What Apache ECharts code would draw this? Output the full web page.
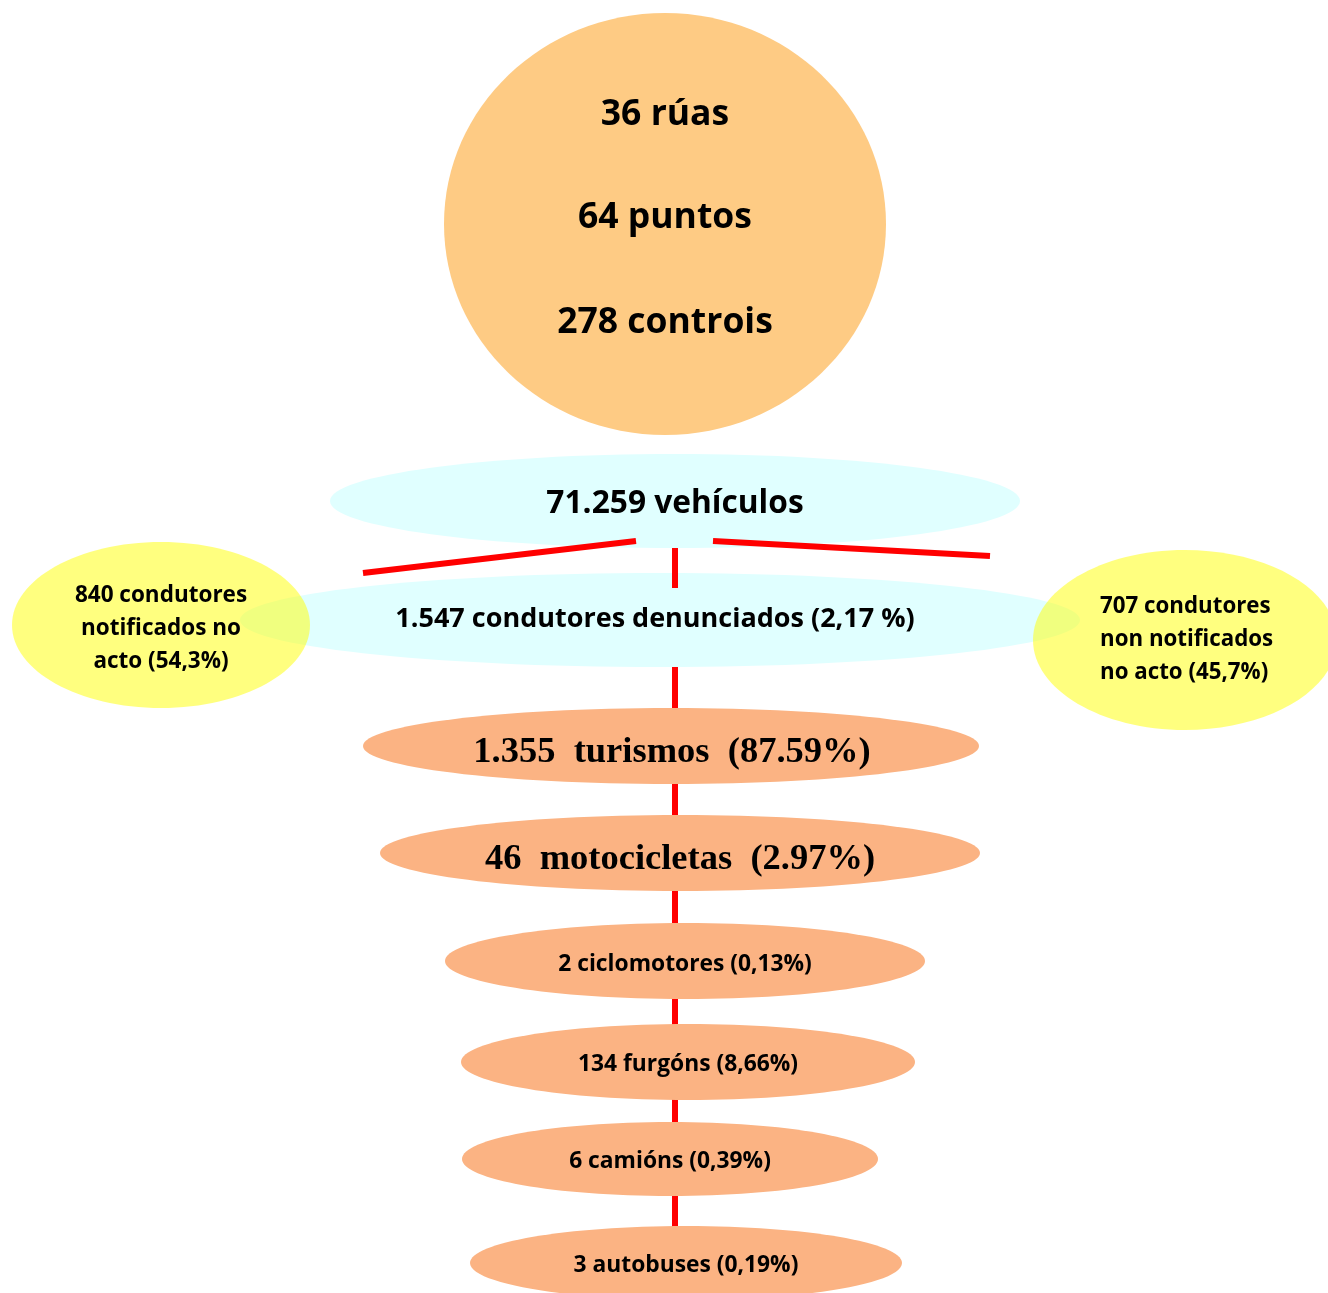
<!DOCTYPE html>
<html><head><meta charset="utf-8">
<script src="https://cdn.jsdelivr.net/npm/echarts@6/dist/echarts.min.js"></script>
<style>html,body{margin:0;padding:0;background:#fff}#c{width:1328px;height:1293px}</style>
</head><body><div id="c"></div>
<script>
// ---- data ----
const summaryLabels = ['36 rúas', '64 puntos', '278 controis'];
const vehiclesTotal = '71.259 vehículos';
const reportedDrivers = '1.547 condutores denunciados (2,17 %)';
const notifiedLabel = ['840 condutores', 'notificados no', 'acto (54,3%)'];
const notNotifiedLabel = ['707 condutores', 'non notificados', 'no acto (45,7%)'];
const typeCounts = ['1.355', '46', '2', '134', '6', '3'];
const typeNames = ['turismos', 'motocicletas', 'ciclomotores', 'furgóns', 'camións', 'autobuses'];
const typePct = ['(87.59%)', '(2.97%)', '(0,13%)', '(8,66%)', '(0,39%)', '(0,19%)'];

// ---- layout (diagram geometry, in axis units) ----
const SANS = '"Open Sans", "Noto Sans", sans-serif';
const SERIF = '"Liberation Serif", "DejaVu Serif", serif';
const DY = 2.5; // vertical text offset
const typeLayout = [
  [671, 746, 308, 38, 672, 750, 'serif'],
  [680, 853, 300, 38, 680, 857, 'serif'],
  [685, 961, 240, 38, 685, 962, 'sans'],
  [688, 1062, 227, 38, 688, 1062, 'sans'],
  [670, 1159, 208, 37, 670, 1159, 'sans'],
  [686, 1263, 216, 37, 686, 1263, 'sans']
];

const nodes = [];
nodes.push({ e: [665, 224, 221, 211], fill: '#FECB84',
  texts: summaryLabels.map((t, i) => ({ t, x: 665, y: [112, 215, 320][i], font: 'bold 35.5px ' + SANS, align: 'center' })) });
nodes.push({ e: [675, 501, 345, 47], fill: '#E0FFFF',
  texts: [{ t: vehiclesTotal, x: 675, y: 501, font: 'bold 31.7px ' + SANS, align: 'center' }] });
nodes.push({ e: [660, 620, 420, 47], fill: '#E0FFFF',
  texts: [{ t: reportedDrivers, x: 655, y: 617, font: 'bold 27px ' + SANS, align: 'center' }] });
nodes.push({ e: [161, 625, 149, 83], fill: 'rgba(255,255,0,0.5)',
  texts: notifiedLabel.map((t, i) => ({ t, x: 161, y: [593, 626, 659][i], font: 'bold 22.5px ' + SANS, align: 'center' })) });
nodes.push({ e: [1185, 640, 152, 90], fill: 'rgba(255,255,0,0.5)',
  texts: notNotifiedLabel.map((t, i) => ({ t, x: 1100, y: [604, 637, 670][i], font: 'bold 22.3px ' + SANS, align: 'left' })) });
typeLayout.forEach((L, i) => {
  const serif = L[6] === 'serif';
  const sp = serif ? '\u2002' : ' ';
  const label = typeCounts[i] + sp + typeNames[i] + sp + typePct[i];
  nodes.push({ e: L.slice(0, 4), fill: '#FBB383',
    texts: [{ t: label, x: L[4], y: L[5], font: serif ? 'bold 36.5px ' + SERIF : 'bold 22.8px ' + SANS, align: 'center' }] });
});

// connectors [x1,y1,x2,y2]
const backLines = [[675, 640, 675, 1250]];
const frontLines = [[675, 548, 675, 588], [363, 573, 636, 541], [713, 541, 990, 556]];

function lineSeries(list, z) {
  return {
    type: 'custom', coordinateSystem: 'cartesian2d', z: z, silent: true,
    data: list,
    renderItem: function (params, api) {
      const p1 = api.coord([api.value(0), api.value(1)]);
      const p2 = api.coord([api.value(2), api.value(3)]);
      return { type: 'line', shape: { x1: p1[0], y1: p1[1], x2: p2[0], y2: p2[1] },
        style: { stroke: '#FF0000', lineWidth: 6 } };
    }
  };
}

const chart = echarts.init(document.getElementById('c'), null, { renderer: 'canvas' });
chart.setOption({
  animation: false,
  backgroundColor: '#ffffff',
  grid: { left: 0, right: 0, top: 0, bottom: 0 },
  xAxis: { type: 'value', min: 0, max: 1328, show: false },
  yAxis: { type: 'value', min: 0, max: 1293, inverse: true, show: false },
  series: [
    lineSeries(backLines, 1),
    {
      type: 'custom', coordinateSystem: 'cartesian2d', z: 2, silent: true,
      data: nodes.map((n, i) => n.e.concat([i])),
      renderItem: function (params, api) {
        const n = nodes[api.value(4)];
        const c = api.coord([api.value(0), api.value(1)]);
        const s = api.size([api.value(2), api.value(3)]);
        const children = [{ type: 'ellipse', shape: { cx: c[0], cy: c[1], rx: s[0], ry: s[1] },
          style: { fill: n.fill } }];
        n.texts.forEach(tx => {
          const p = api.coord([tx.x, tx.y + DY]);
          children.push({ type: 'text', x: p[0], y: p[1],
            style: { text: tx.t, font: tx.font, fill: '#000', align: tx.align, verticalAlign: 'middle' } });
        });
        return { type: 'group', children: children };
      }
    },
    lineSeries(frontLines, 3)
  ]
});
</script></body></html>
